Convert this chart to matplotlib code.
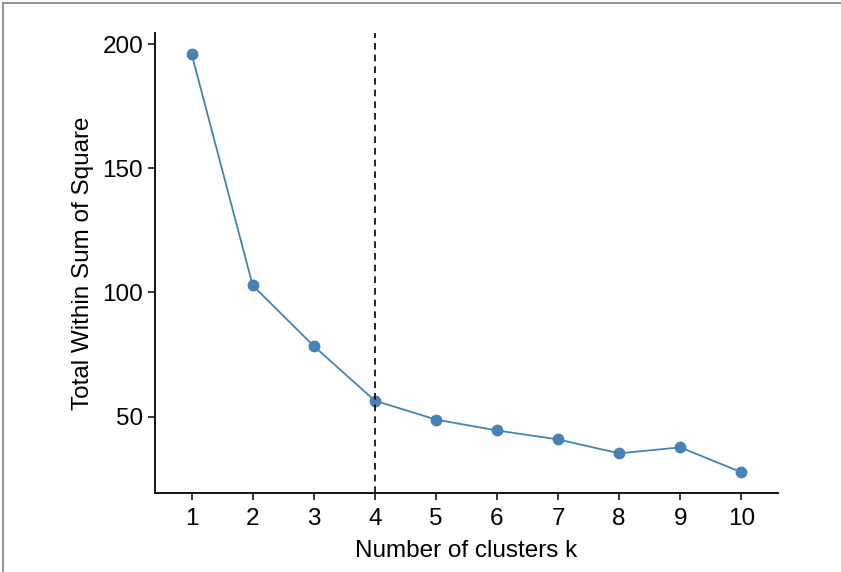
import matplotlib.pyplot as plt
from matplotlib.patches import Rectangle

plt.rcParams['font.family'] = ['Liberation Sans', 'DejaVu Sans']

k = [1, 2, 3, 4, 5, 6, 7, 8, 9, 10]
wss = [196.0, 102.8, 78.4, 56.4, 48.8, 44.4, 40.8, 35.2, 37.6, 27.6]
optimal_k = 4

fig = plt.figure(figsize=(8.41, 5.72), dpi=100)
ax = fig.add_axes([0.1843, 0.138, 0.7407, 0.804])

ax.plot(k, wss, color='#4682B4', linewidth=1.3, marker='o', markersize=7.5)
ax.axvline(optimal_k, color='black', linestyle=(0, (4, 3)), linewidth=1.2)

ax.set_xlim(0.4, 10.6)
ax.set_ylim(19.2, 204.4)
ax.set_xticks(k)
ax.set_yticks([50, 100, 150, 200])
ax.set_xlabel('Number of clusters k', fontsize=17.5, labelpad=7)
ax.set_ylabel('Total Within Sum of Square', fontsize=17.5, labelpad=6)
ax.tick_params(labelsize=17.5, length=5, width=1.1, colors='black')
ax.tick_params(axis='x', pad=6)

for side in ['top', 'right']:
    ax.spines[side].set_visible(False)
for side in ['left', 'bottom']:
    ax.spines[side].set_linewidth(1.3)

# grey frame round the picture
fig.patches.append(Rectangle((0.004, -0.01), 1.2, 1.004, transform=fig.transFigure,
                             fill=False, edgecolor='#808080', linewidth=1.2))

fig.savefig('out.png', dpi=100)
